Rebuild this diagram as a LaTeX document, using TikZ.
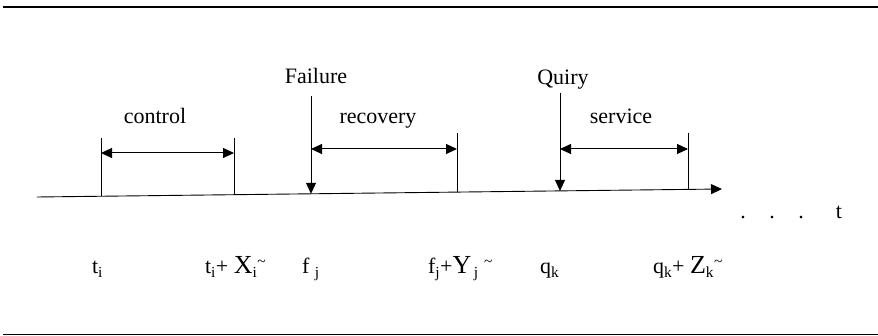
\documentclass[tikz,border=0pt]{standalone}
\usepackage{fontspec}
\setmainfont{Liberation Serif}
\usetikzlibrary{arrows.meta}
\newcommand{\BigL}[1]{{\fontsize{26}{30}\selectfont #1}}
\newcommand{\tld}{\textsuperscript{\textasciitilde}}
\begin{document}
\begin{tikzpicture}[x=1pt,y=-1pt,
  every node/.style={inner sep=0pt,outer sep=0pt},
  lbl/.style={font=\fontsize{22}{26}\selectfont, anchor=base},
  tlbl/.style={font=\fontsize{22}{26}\selectfont, anchor=base west},
  rule/.style={line width=1.3pt},
  thin/.style={line width=0.9pt},
  evarrow/.style={line width=1pt,-{Triangle[length=11pt,width=10pt]}},
  span/.style={line width=1pt,{Triangle[length=11pt,width=10pt]}-{Triangle[length=11pt,width=10pt]}}]
\useasboundingbox (0,0) rectangle (878,336);
% horizontal rules
\coordinate (rtl) at (3,7);  \coordinate (rtr) at (878,7);
\coordinate (rbl) at (3,334.5); \coordinate (rbr) at (878,334.5);
\draw[rule] (rtl) -- (rtr);
\draw[rule] (rbl) -- (rbr);
% time axis
\coordinate (ax0) at (37,197);
\coordinate (ax1) at (722,189);
\draw[thin,-{Triangle[length=11pt,width=10pt]}] (ax0) -- (ax1);
% axis points
\coordinate (pti) at (101,196.3);
\coordinate (ptx) at (234,194.7);
\coordinate (pfj) at (311,193.8);
\coordinate (pfy) at (457,192.1);
\coordinate (pqk) at (560,190.9);
\coordinate (pqz) at (688,189.4);
% tick tops
\coordinate (tti) at (101,138);
\coordinate (ttx) at (234,138);
\coordinate (tfj) at (311,96);
\coordinate (tfy) at (457,133);
\coordinate (tqk) at (560,93);
\coordinate (tqz) at (688,133);
\draw[thin] (tti) -- (pti);
\draw[thin] (ttx) -- (ptx);
\draw[thin] (tfy) -- (pfy);
\draw[thin] (tqz) -- (pqz);
\draw[evarrow] (tfj) -- (pfj);
\draw[evarrow] (tqk) -- (pqk);
% spans
\coordinate (c0) at (101,153); \coordinate (c1) at (234,153);
\coordinate (r0) at (311,149); \coordinate (r1) at (457,149);
\coordinate (s0) at (560,149); \coordinate (s1) at (688,149);
\draw[span] (c0) -- (c1);
\draw[span] (r0) -- (r1);
\draw[span] (s0) -- (s1);
% labels
\node[lbl] (failure) at (316,84) {Failure};
\node[lbl] (quiry) at (563,85) {Quiry};
\node[lbl] (control) at (155,124) {control};
\node[lbl] (recovery) at (378,124) {recovery};
\node[lbl] (service) at (621,124) {service};
% dots and t
\node[lbl] (d1) at (743,219) {.};
\node[lbl] (d2) at (772,219) {.};
\node[lbl] (d3) at (801,219) {.};
\node[lbl] (tt) at (839,219) {t};
% bottom labels
\node[tlbl] (lti) at (92,274) {t\textsubscript{i}};
\node[tlbl] (ltx) at (205,274) {t\textsubscript{i}+ \BigL{X}\textsubscript{i}\tld};
\node[tlbl] (lfj) at (302,274) {f \textsubscript{j}};
\node[tlbl] (lfy) at (428,274) {f\textsubscript{j}+\BigL{Y}\textsubscript{\,j} \tld};
\node[tlbl] (lqk) at (540,274) {q\textsubscript{k}};
\node[tlbl] (lqz) at (653,274) {q\textsubscript{k}+ \BigL{Z}\textsubscript{k}\tld};
\end{tikzpicture}
\end{document}
